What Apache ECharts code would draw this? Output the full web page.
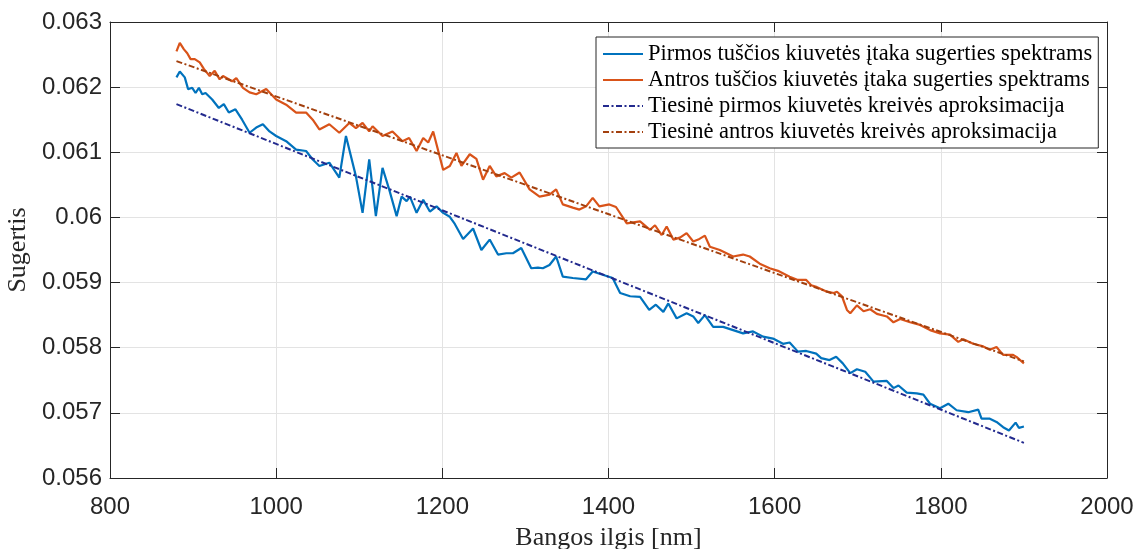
<!DOCTYPE html>
<html><head><meta charset="utf-8">
<script src="https://cdn.jsdelivr.net/npm/echarts@6/dist/echarts.min.js"></script>
<style>html,body{margin:0;padding:0;background:#fff}#c{width:1138px;height:549px}</style>
</head><body><div id="c"></div>
<script>
const seriesNames = [
  'Pirmos tuščios kiuvetės įtaka sugerties spektrams',
  'Antros tuščios kiuvetės įtaka sugerties spektrams',
  'Tiesinė pirmos kiuvetės kreivės aproksimacija',
  'Tiesinė antros kiuvetės kreivės aproksimacija'
];
const xAxisTitle = 'Bangos ilgis [nm]';
const yAxisTitle = 'Sugertis';

const blueX = [880,884,890,894,899,903,907,911,915,923,931,937,943,951,959,968,976,984,992,1000,1012,1024,1036,1044,1052,1064,1076,1084,1096,1104,1112,1120,1128,1136,1145,1151,1157,1161,1169,1177,1185,1193,1201,1209,1215,1225,1237,1247,1257,1267,1277,1285,1295,1307,1315,1321,1329,1337,1345,1357,1373,1381,1393,1405,1414,1426,1438,1449,1457,1466,1472,1482,1494,1502,1508,1516,1526,1538,1550,1562,1574,1586,1598,1610,1618,1628,1638,1650,1656,1666,1674,1682,1691,1699,1709,1719,1735,1743,1749,1759,1771,1779,1787,1799,1809,1819,1833,1845,1849,1859,1867,1875,1882,1890,1894,1900];
const blueY = [0.06215,0.06224,0.06215,0.06197,0.06199,0.06191,0.06199,0.06189,0.06191,0.06181,0.06168,0.06174,0.06161,0.06166,0.06150,0.06130,0.06138,0.06143,0.06132,0.06125,0.06117,0.06104,0.06102,0.06089,0.06079,0.06084,0.06061,0.06125,0.06063,0.06007,0.06089,0.06002,0.06076,0.06043,0.06002,0.06032,0.06025,0.06032,0.06007,0.06027,0.06009,0.06017,0.06007,0.06001,0.05990,0.05967,0.05983,0.05950,0.05966,0.05943,0.05945,0.05945,0.05953,0.05922,0.05923,0.05922,0.05927,0.05940,0.05909,0.05907,0.05905,0.05917,0.05912,0.05907,0.05884,0.05879,0.05878,0.05858,0.05866,0.05855,0.05868,0.05845,0.05853,0.05848,0.05838,0.05850,0.05832,0.05832,0.05827,0.05822,0.05825,0.05817,0.05814,0.05806,0.05808,0.05794,0.05795,0.05791,0.05784,0.05781,0.05786,0.05776,0.05761,0.05767,0.05763,0.05748,0.05749,0.05738,0.05742,0.05731,0.05730,0.05728,0.05714,0.05707,0.05714,0.05704,0.05701,0.05705,0.05691,0.05691,0.05686,0.05678,0.05673,0.05685,0.05677,0.05679];

const orangeX = [880,884,889,893,897,902,908,913,920,926,932,936,947,952,960,968,976,988,1000,1012,1024,1036,1044,1052,1064,1076,1088,1096,1104,1112,1116,1128,1140,1152,1160,1169,1177,1183,1189,1201,1209,1217,1223,1233,1241,1249,1257,1265,1275,1283,1293,1305,1317,1329,1337,1345,1357,1365,1373,1381,1389,1401,1409,1422,1438,1450,1456,1464,1470,1478,1486,1494,1502,1508,1516,1522,1534,1550,1562,1570,1582,1594,1604,1618,1628,1638,1644,1651,1663,1671,1675,1681,1687,1691,1699,1707,1715,1723,1735,1743,1751,1763,1775,1787,1799,1811,1821,1827,1839,1851,1859,1867,1875,1887,1891,1900];
const orangeY = [0.06255,0.06268,0.06258,0.06252,0.06243,0.06243,0.06238,0.06228,0.06217,0.06225,0.06212,0.06217,0.06209,0.06214,0.06199,0.06192,0.06189,0.06197,0.06181,0.06173,0.06161,0.06161,0.06150,0.06135,0.06143,0.06130,0.06145,0.06137,0.06145,0.06132,0.06140,0.06125,0.06132,0.06117,0.06122,0.06102,0.06122,0.06115,0.06132,0.06073,0.06079,0.06099,0.06079,0.06097,0.06090,0.06058,0.06079,0.06063,0.06068,0.06061,0.06069,0.06043,0.06032,0.06035,0.06043,0.06020,0.06015,0.06012,0.06017,0.06030,0.06017,0.06020,0.06016,0.05991,0.05994,0.05981,0.05988,0.05973,0.05986,0.05966,0.05969,0.05976,0.05963,0.05966,0.05972,0.05955,0.05950,0.05940,0.05943,0.05940,0.05929,0.05922,0.05918,0.05909,0.05904,0.05904,0.05896,0.05893,0.05886,0.05884,0.05886,0.05879,0.05858,0.05853,0.05865,0.05856,0.05859,0.05852,0.05848,0.05839,0.05844,0.05839,0.05835,0.05827,0.05822,0.05820,0.05809,0.05813,0.05806,0.05802,0.05797,0.05801,0.05789,0.05789,0.05786,0.05776];

const fitX = [880, 1900];
const fitBlueY = [0.06174, 0.05654];
const fitOrangeY = [0.06240, 0.05779];

const pairs = (xs, ys) => xs.map((x, i) => [x, ys[i]]);

const AX = '#262626';
const sans = 'Liberation Sans';
const serif = 'Liberation Serif';
const dashDot = [6, 2.5, 2, 2.5];

const chart = echarts.init(document.getElementById('c'), null, {renderer: 'canvas'});
const yFmt = v => String(parseFloat(Number(v).toFixed(3)));
const xFmt = v => String(Math.round(v));

chart.setOption({
  animation: false,
  backgroundColor: '#fff',
  grid: {left: 110, right: 31, top: 22, bottom: 71, containLabel: false, outerBoundsMode: 'none'},
  legend: {
    orient: 'vertical',
    left: 596, top: 37,
    padding: [5, 6, 4, 6],
    itemWidth: 40, itemHeight: 14, itemGap: 2,
    borderColor: AX, borderWidth: 1,
    backgroundColor: '#fff',
    itemStyle: {opacity: 0, borderWidth: 0},
    textStyle: {fontFamily: serif, fontSize: 22.5, color: '#000', lineHeight: 24},
    data: seriesNames
  },
  xAxis: [{
    type: 'value', min: 800, max: 2000, interval: 200,
    name: xAxisTitle, nameLocation: 'middle', nameGap: 47,
    nameTextStyle: {fontFamily: serif, fontSize: 26, color: AX},
    axisLine: {show: true, onZero: false, lineStyle: {color: AX, width: 1}},
    axisTick: {show: true, inside: true, length: 10, lineStyle: {color: AX}},
    axisLabel: {fontFamily: sans, fontSize: 24, color: AX, margin: 17, formatter: xFmt},
    splitLine: {show: true, lineStyle: {color: '#e3e3e3', width: 1}}
  }, {
    type: 'value', min: 800, max: 2000, interval: 200, position: 'top',
    axisLine: {show: true, onZero: false, lineStyle: {color: AX, width: 1}},
    axisTick: {show: true, inside: true, length: 10, lineStyle: {color: AX}},
    axisLabel: {show: false}, splitLine: {show: false}
  }],
  yAxis: [{
    type: 'value', min: 0.056, max: 0.063, interval: 0.001,
    name: yAxisTitle, nameLocation: 'middle', nameGap: 65, nameRotate: 90,
    nameTextStyle: {fontFamily: serif, fontSize: 26, color: AX},
    axisLine: {show: true, onZero: false, lineStyle: {color: AX, width: 1}},
    axisTick: {show: true, inside: true, length: 10, lineStyle: {color: AX}},
    axisLabel: {fontFamily: sans, fontSize: 24, color: AX, margin: 8, formatter: yFmt},
    splitLine: {show: true, lineStyle: {color: '#e3e3e3', width: 1}}
  }, {
    type: 'value', min: 0.056, max: 0.063, interval: 0.001, position: 'right',
    axisLine: {show: true, onZero: false, lineStyle: {color: AX, width: 1}},
    axisTick: {show: true, inside: true, length: 10, lineStyle: {color: AX}},
    axisLabel: {show: false}, splitLine: {show: false}
  }],
  series: [
    {name: seriesNames[0], type: 'line', data: pairs(blueX, blueY), symbol: 'none',
     lineStyle: {color: '#0072BD', width: 2.2}, itemStyle: {color: '#0072BD'}, z: 3},
    {name: seriesNames[1], type: 'line', data: pairs(orangeX, orangeY), symbol: 'none',
     lineStyle: {color: '#D95319', width: 2.2}, itemStyle: {color: '#D95319'}, z: 3},
    {name: seriesNames[2], type: 'line', data: pairs(fitX, fitBlueY), symbol: 'none',
     lineStyle: {color: '#232A8E', width: 2, type: dashDot}, itemStyle: {color: '#232A8E'}, z: 4},
    {name: seriesNames[3], type: 'line', data: pairs(fitX, fitOrangeY), symbol: 'none',
     lineStyle: {color: '#A3400E', width: 2, type: dashDot}, itemStyle: {color: '#A3400E'}, z: 4}
  ]
});
</script>
</body></html>
